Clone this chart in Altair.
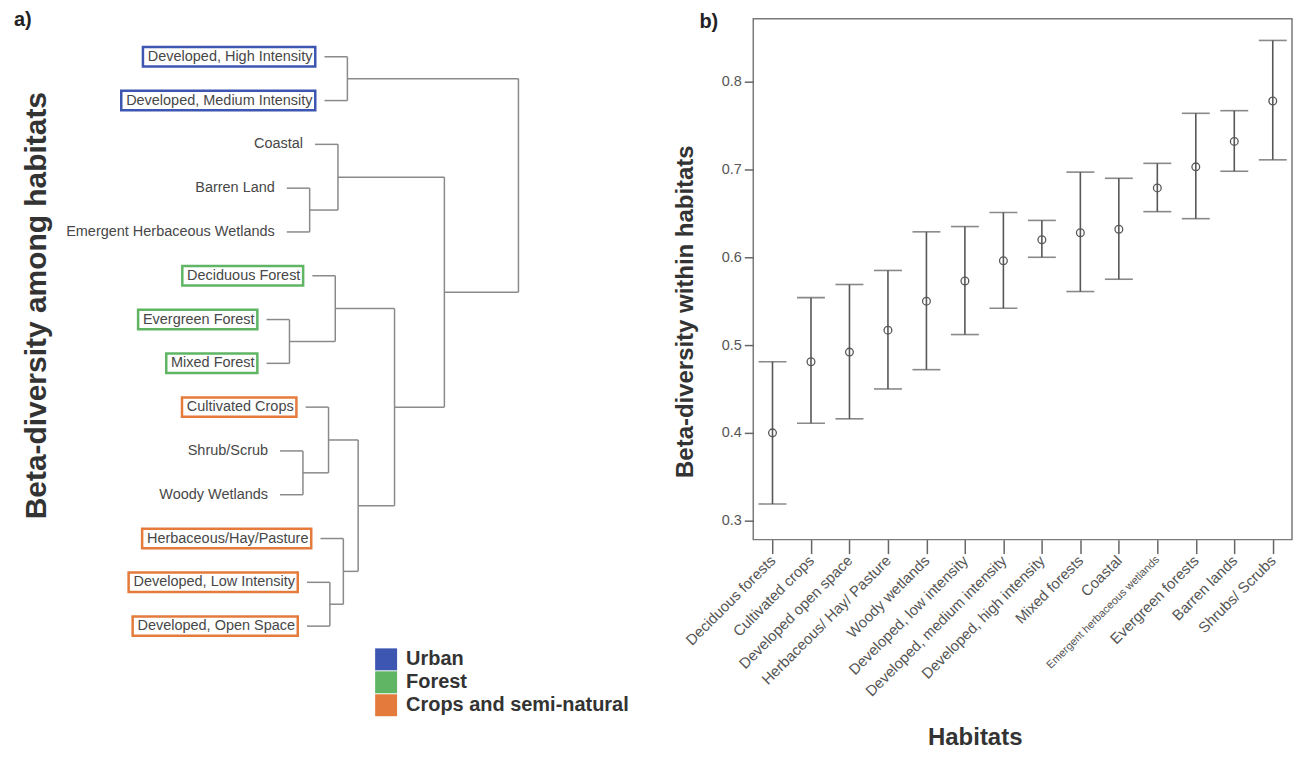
import altair as alt
import pandas as pd

# ---------------- panel a) : dendrogram ----------------
leaf_names = [
    "Developed, High Intensity", "Developed, Medium Intensity", "Coastal", "Barren Land",
    "Emergent Herbaceous Wetlands", "Deciduous Forest", "Evergreen Forest", "Mixed Forest",
    "Cultivated Crops", "Shrub/Scrub", "Woody Wetlands", "Herbaceous/Hay/Pasture",
    "Developed, Low Intensity", "Developed, Open Space",
]
leaf_groups = [
    "Urban", "Urban", "", "", "", "Forest", "Forest", "Forest",
    "Crops and semi-natural", "", "", "Crops and semi-natural",
    "Crops and semi-natural", "Crops and semi-natural",
]
# linkage: merge k joins merge_first[k] and merge_second[k] at merge_height[k]
merge_first = ["Evergreen Forest", "Shrub/Scrub", "Barren Land", "Cultivated Crops",
               "Developed, Low Intensity", "Deciduous Forest", "Coastal",
               "Herbaceous/Hay/Pasture", "Developed, High Intensity", "m3", "m5", "m6", "m8"]
merge_second = ["Mixed Forest", "Woody Wetlands", "Emergent Herbaceous Wetlands", "m1",
                "Developed, Open Space", "m0", "m2", "m4", "Developed, Medium Intensity",
                "m7", "m9", "m10", "m11"]
merge_height = [0.145, 0.195, 0.22, 0.29, 0.295, 0.315, 0.325, 0.345, 0.36, 0.40, 0.535, 0.72, 0.995]
LEAF_STUB = 0.085

group_names = ["Urban", "Forest", "Crops and semi-natural"]
group_colors = ["#3c56b2", "#5fb563", "#e47b3c"]

# ---------------- panel b) : beta-diversity within habitats ----------------
habitats = ["Deciduous forests", "Cultivated crops", "Developed open space",
            "Herbaceous/ Hay/ Pasture", "Woody wetlands", "Developed, low intensity",
            "Developed, medium intensity", "Developed, high intensity", "Mixed forests",
            "Coastal", "Emergent herbaceous wetlands", "Evergreen forests", "Barren lands",
            "Shrubs/ Scrubs"]
beta_mean = [0.400, 0.481, 0.492, 0.517, 0.550, 0.573, 0.596, 0.620, 0.628, 0.632, 0.679, 0.703, 0.732, 0.778]
beta_low = [0.319, 0.411, 0.416, 0.450, 0.472, 0.512, 0.542, 0.600, 0.561, 0.575, 0.652, 0.644, 0.698, 0.711]
beta_high = [0.481, 0.554, 0.569, 0.585, 0.629, 0.635, 0.651, 0.642, 0.697, 0.690, 0.707, 0.764, 0.767, 0.847]

# ---------------- layout / style ----------------
FONT = "Liberation Sans"
LW, LH = 612, 700           # left panel plot size
RW, RH = 540, 522           # right panel plot size
X_DOM = [-0.748, 1.5185]
Y_DOM = [-0.866, 15.08]
PPU = LW / (X_DOM[1] - X_DOM[0])   # pixels per dissimilarity unit
LABEL_FS = 14.5
LABEL_GAP, PAD_R, PAD_L = 12, 4, 6

ARIAL = {"D": 722, "e": 556, "v": 500, "l": 222, "o": 556, "p": 556, "d": 556, ",": 278,
         " ": 278, "H": 722, "i": 222, "g": 556, "h": 556, "I": 278, "n": 556, "t": 278,
         "s": 500, "y": 500, "M": 833, "u": 556, "m": 833, "c": 500, "F": 611, "E": 667,
         "r": 333, "x": 500, "C": 722, "a": 556, "b": 556, "/": 278, "P": 667, "L": 556,
         "w": 722, "O": 778, "S": 667}


def text_width(s, size):
    return sum(ARIAL.get(ch, 556) for ch in s) * size / 1000.0


# build dendrogram segments from the linkage
pos = {n: float(i) for i, n in enumerate(leaf_names)}
hgt = {}
leaf_start = {}
segs = []
for k, (a, b, h) in enumerate(zip(merge_first, merge_second, merge_height)):
    for c in (a, b):
        if c in hgt:
            cx = hgt[c]
        else:
            cx = h - LEAF_STUB
            leaf_start[c] = cx
        segs.append({"x": cx, "x2": h, "y": pos[c], "y2": pos[c]})
    segs.append({"x": h, "x2": h, "y": pos[a], "y2": pos[b]})
    node = f"m{k}"
    pos[node] = (pos[a] + pos[b]) / 2.0
    hgt[node] = h

seg_df = pd.DataFrame(segs)
lab_df = pd.DataFrame({"name": leaf_names,
                       "x": [leaf_start[n] for n in leaf_names],
                       "y": [pos[n] for n in leaf_names],
                       "group": leaf_groups})
box_rows = []
for n, g in zip(leaf_names, leaf_groups):
    if g:
        tw = text_width(n, LABEL_FS)
        box_rows.append({"name": n, "group": g, "y": pos[n],
                         "right": leaf_start[n] - (LABEL_GAP - PAD_R) / PPU,
                         "left": leaf_start[n] - (LABEL_GAP + tw + PAD_L) / PPU})
box_df = pd.DataFrame(box_rows)

xs = alt.Scale(domain=X_DOM, nice=False, zero=False)
ys = alt.Scale(domain=Y_DOM, reverse=True, nice=False, zero=False)
yaxis_left = alt.Axis(title="Beta-diversity among habitats", labels=False, ticks=False,
                      domain=False, grid=False, minExtent=0, titleFontSize=30,
                      titleFontWeight="bold", titleColor="#333333", titleX=-12, titleY=287,
                      titleBaseline="middle")

tree = alt.Chart(seg_df).mark_rule(color="#8a8a8a", strokeWidth=1.5).encode(
    x=alt.X("x:Q", scale=xs, axis=None), x2="x2:Q",
    y=alt.Y("y:Q", scale=ys, axis=yaxis_left), y2="y2:Q")

box_outer = alt.Chart(box_df).mark_rect(yOffset=-11, y2Offset=11).encode(
    x=alt.X("left:Q", scale=xs, axis=None), x2="right:Q",
    y=alt.Y("y:Q", scale=ys, axis=yaxis_left), y2="y:Q",
    color=alt.Color("group:N", scale=alt.Scale(domain=group_names, range=group_colors),
                    legend=alt.Legend(title=None, orient="none", legendX=327, legendY=631,
                                      direction="vertical", symbolType="square",
                                      symbolSize=484, symbolStrokeWidth=0,
                                      labelFontSize=20, labelFontWeight="bold",
                                      labelColor="#333333", labelOffset=9, rowPadding=1,
                                      padding=0, labelLimit=400)))

box_inner = alt.Chart(box_df).mark_rect(color="white", xOffset=2.5, x2Offset=-2.5,
                                        yOffset=-8.5, y2Offset=8.5).encode(
    x=alt.X("left:Q", scale=xs, axis=None), x2="right:Q",
    y=alt.Y("y:Q", scale=ys, axis=yaxis_left), y2="y:Q")

labels = alt.Chart(lab_df).mark_text(align="right", baseline="middle", dx=-LABEL_GAP,
                                     fontSize=LABEL_FS, color="#474747").encode(
    x=alt.X("x:Q", scale=xs, axis=None),
    y=alt.Y("y:Q", scale=ys, axis=yaxis_left),
    text="name:N")

left = alt.layer(tree, box_outer, box_inner, labels).properties(
    width=LW, height=LH,
    view=alt.ViewBackground(stroke="transparent"),
    title=alt.TitleParams("a)", anchor="start", frame="group", orient="top", fontSize=20,
                          fontWeight="bold", color="#222222", dx=-35, dy=-5, offset=-16,
                          baseline="top"))

# ---------------- right chart ----------------
b_df = pd.DataFrame({"habitat": habitats, "mean": beta_mean, "lower": beta_low, "upper": beta_high})
EC = "#575757"
xsc = alt.Scale(type="point", padding=0.5)
ysc = alt.Scale(domain=[0.2784, 0.8716], nice=False, zero=False)
xaxis = alt.Axis(title="Habitats", labelAngle=-45, labelAlign="right", labelBaseline="middle",
                 labelFontSize={"condition": {"test": "datum.value === 'Emergent herbaceous wetlands'",
                                              "value": 11}, "value": 15},
                 labelColor="#555555", labelLimit=300, labelPadding=4, tickSize=14,
                 tickColor="#666666", tickWidth=1.5, domain=False, grid=False,
                 titleFontSize=24, titleFontWeight="bold", titleColor="#333333",
                 titleX=222, titleY=186, titleBaseline="top")
yaxis = alt.Axis(values=[0.3, 0.4, 0.5, 0.6, 0.7, 0.8], format=".1f", tickSize=9,
                 tickColor="#666666", tickWidth=1.5, labelColor="#555555", labelFontSize=14.5,
                 labelPadding=3, domain=False, grid=False,
                 title="Beta-diversity within habitats", titleFontSize=24,
                 titleFontWeight="bold", titleColor="#333333", titlePadding=24, titleY=293)

xenc = alt.X("habitat:N", sort=habitats, scale=xsc, axis=xaxis)
bars = alt.Chart(b_df).mark_rule(color=EC, strokeWidth=1.6).encode(
    x=xenc, y=alt.Y("lower:Q", scale=ysc, axis=yaxis), y2="upper:Q")
cap_lo = alt.Chart(b_df).mark_tick(color=EC, size=28, thickness=1.6).encode(
    x=xenc, y=alt.Y("lower:Q", scale=ysc, axis=yaxis))
cap_hi = alt.Chart(b_df).mark_tick(color=EC, size=28, thickness=1.6).encode(
    x=xenc, y=alt.Y("upper:Q", scale=ysc, axis=yaxis))
pts = alt.Chart(b_df).mark_point(shape="circle", size=60, color=EC, strokeWidth=1.3,
                                 filled=False, opacity=1).encode(
    x=xenc, y=alt.Y("mean:Q", scale=ysc, axis=yaxis))

right = alt.layer(bars, cap_lo, cap_hi, pts).properties(
    width=RW, height=RH,
    view=alt.ViewBackground(stroke="#7a7a7a", strokeWidth=1.5),
    title=alt.TitleParams("b)", anchor="start", frame="group", orient="top", fontSize=20,
                          fontWeight="bold", color="#222222", dx=-54, dy=-3, offset=-16,
                          baseline="top"))

chart = alt.hconcat(left, right, spacing=12).resolve_scale(color="independent").resolve_legend(
    color="independent").properties(
    padding={"left": 5, "top": 0, "right": 0, "bottom": 0}
).configure(font=FONT)

chart.save("out.html", embed_options={"renderer": "svg", "actions": False})
